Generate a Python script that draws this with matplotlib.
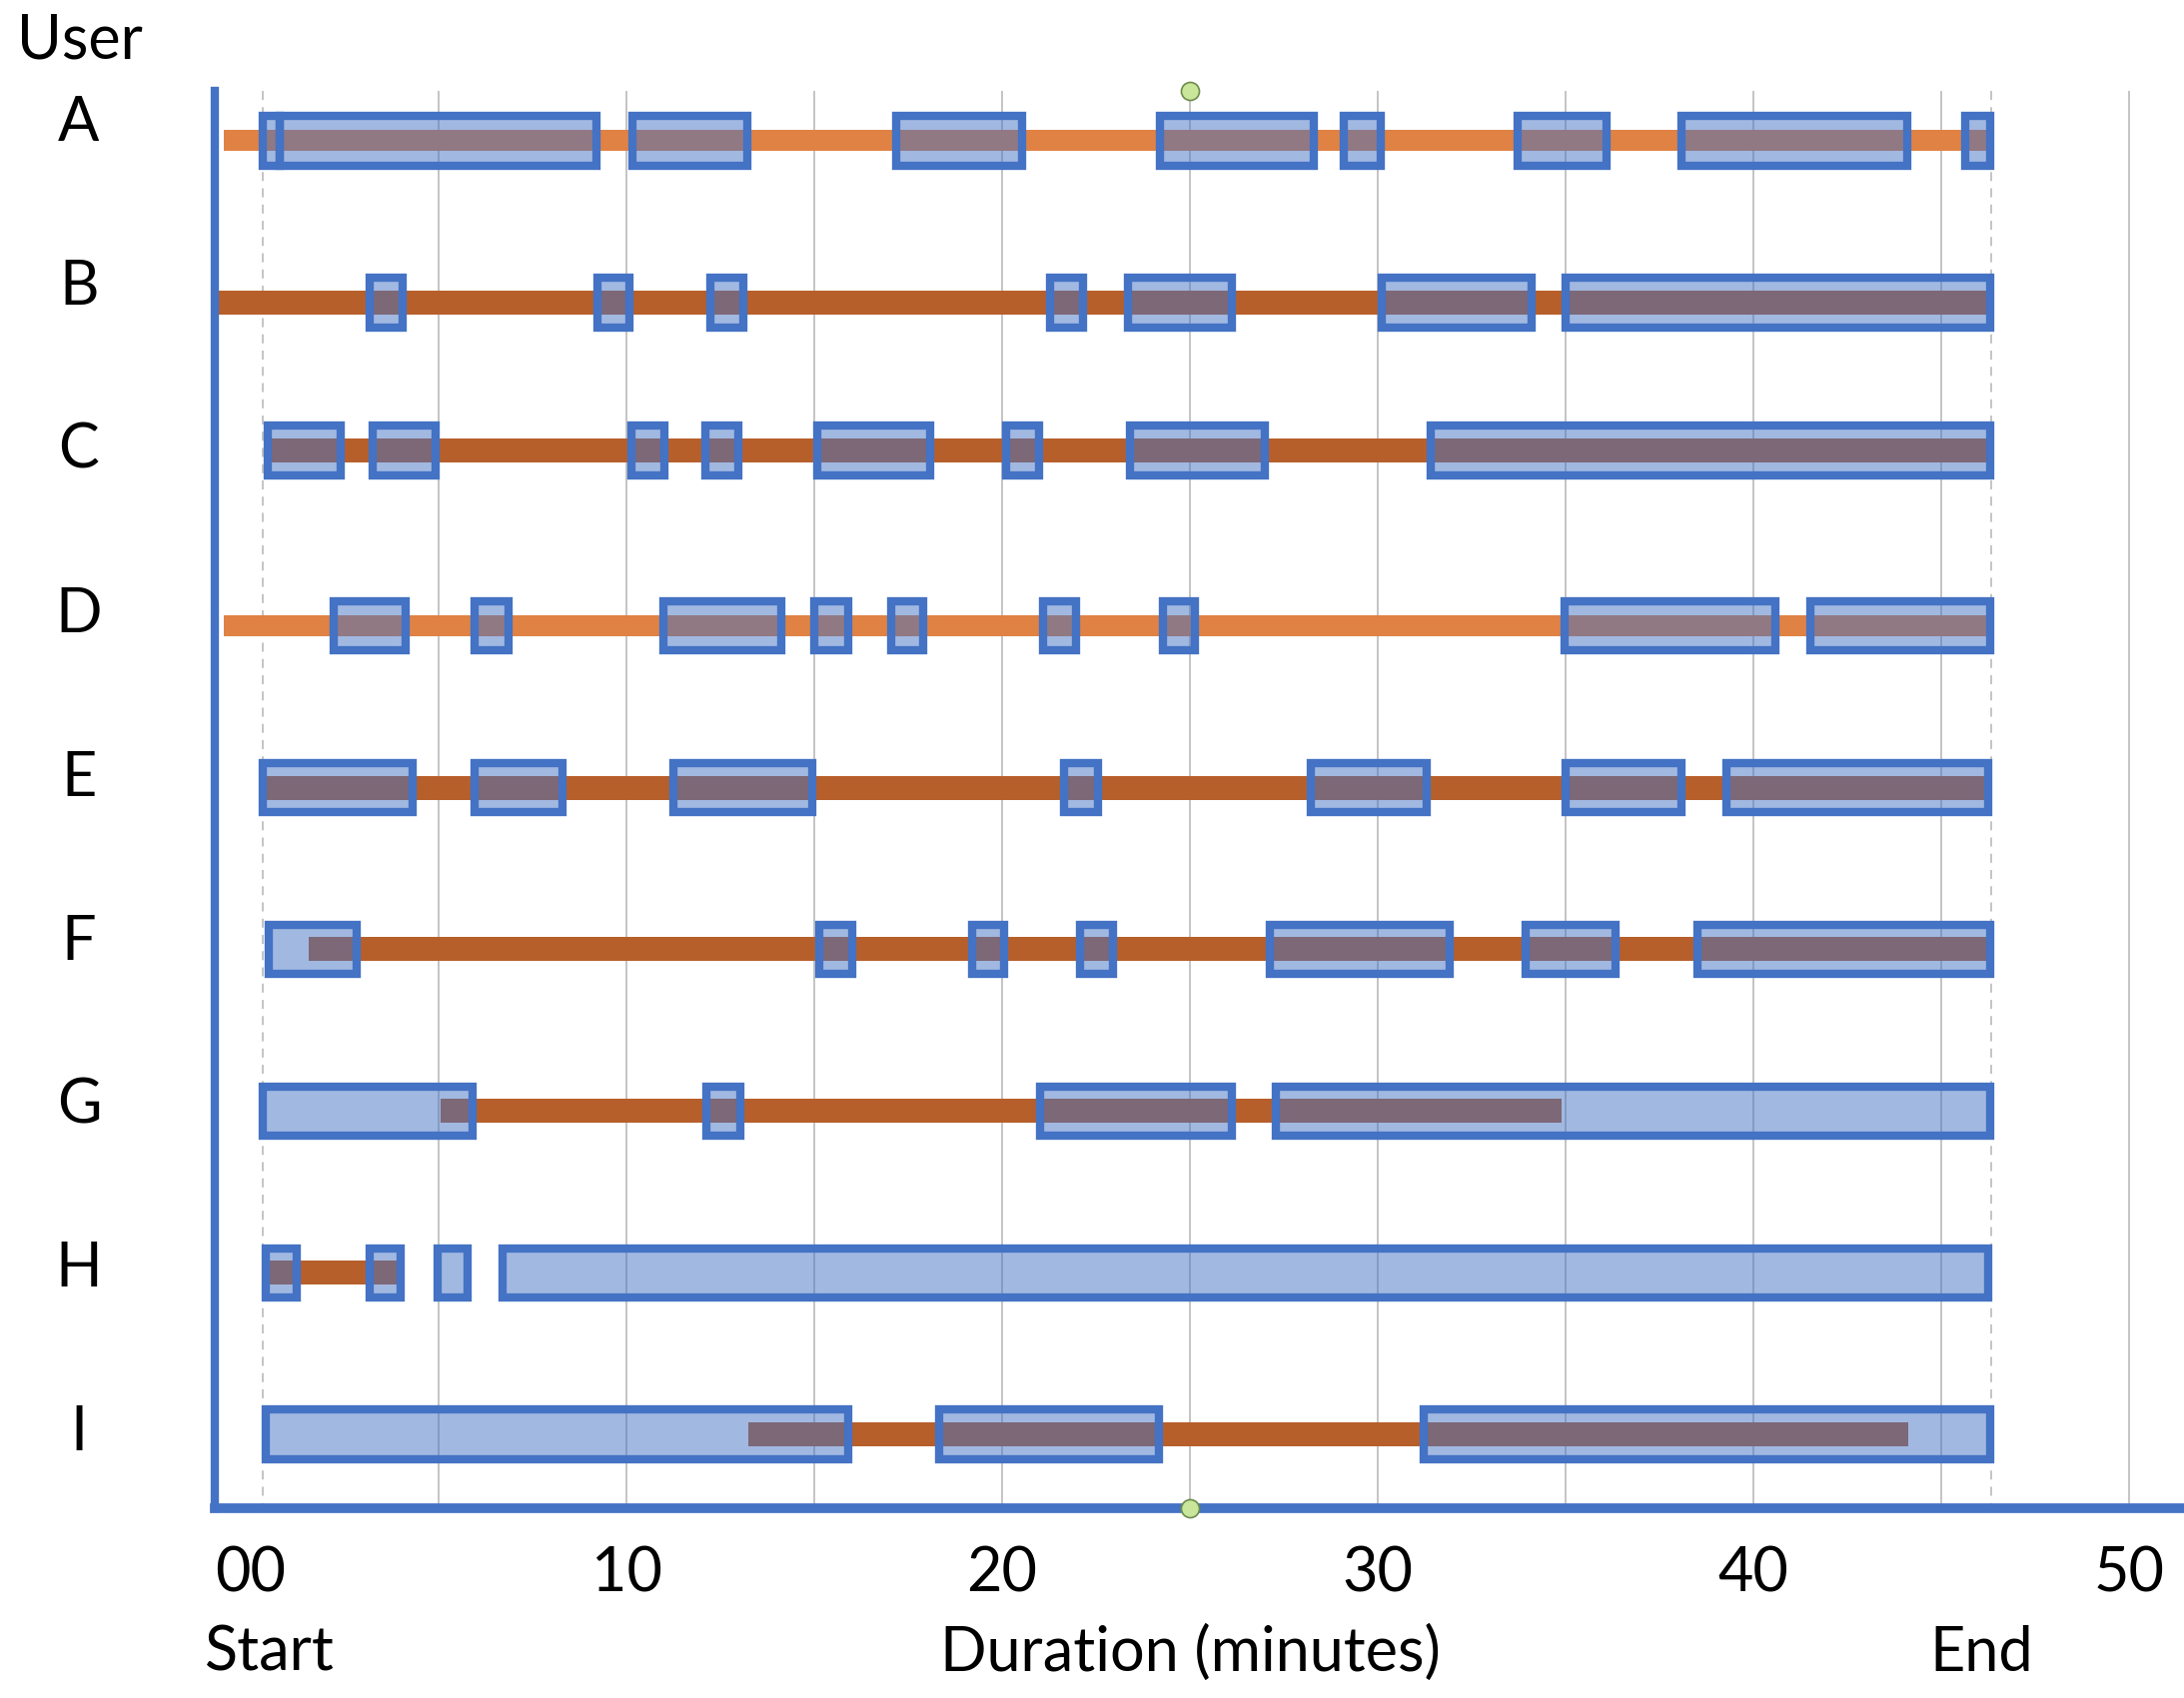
import matplotlib
matplotlib.use('Agg')
import matplotlib.pyplot as plt
from matplotlib.transforms import blended_transform_factory

# Calibri-ähnliche Schrift
plt.rcParams['font.family'] = ['Lato', 'DejaVu Sans']

# ---- data (minutes) ----
users = ['A', 'B', 'C', 'D', 'E', 'F', 'G', 'H', 'I']

# orange session line per user
line_start = [-0.72, -0.9, 0.44, -0.72, 0.32, 1.54, 5.05, 0.45, 13.24]
line_end = [46.3, 46.3, 46.3, 46.3, 46.3, 46.2, 34.89, 3.9, 44.12]

# blue activity boxes per user: (start, end)
boxes = [
    [(0.32, 0.76), (0.76, 9.19), (10.17, 13.22), (17.18, 20.52), (24.19, 28.3),
     (29.09, 30.09), (33.72, 36.1), (38.08, 44.09), (45.63, 46.31)],
    [(3.15, 4.03), (9.22, 10.09), (12.24, 13.12), (21.28, 22.16), (23.36, 26.11),
     (30.11, 34.08), (35.01, 46.31)],
    [(0.44, 2.39), (3.25, 4.93), (10.12, 11.0), (12.09, 12.97), (15.07, 18.07),
     (20.11, 20.99), (23.41, 27.0), (31.4, 46.31)],
    [(2.2, 4.13), (5.96, 6.85), (10.97, 14.12), (15.0, 15.89), (17.04, 17.9),
     (21.08, 21.96), (24.28, 25.14), (34.96, 40.58), (41.51, 46.31)],
    [(0.32, 4.3), (5.96, 8.29), (11.24, 14.94), (21.65, 22.54), (28.21, 31.31),
     (35.01, 38.07), (39.27, 46.26)],
    [(0.47, 2.81), (15.13, 16.0), (19.21, 20.06), (22.08, 22.96), (27.13, 31.91),
     (33.94, 36.32), (38.51, 46.31)],
    [(0.32, 5.9), (12.12, 13.02), (21.01, 26.11), (27.28, 46.31)],
    [(0.39, 1.22), (3.15, 3.98), (4.97, 5.78), (6.69, 46.26)],
    [(0.39, 15.9), (18.31, 24.18), (31.21, 46.31)],
]

tick_x = [0, 10, 20, 30, 40, 50]
tick_labels = ['00', '10', '20', '30', '40', '50']
grid_x = [5, 10, 15, 20, 25, 30, 35, 40, 45, 50]
start_x = 0.33
end_x = 46.34
marker_x = 25

# ---- layout / style ----
# row C sits a little higher in the drawing; labels are spaced slightly wider
row_y = [0, 1, 1.915, 3, 4, 5, 6, 7, 8]
label_y = [r * 1.0125 for r in range(len(users))]
light_rows = ['A', 'D']
orange_light = '#E08244'
orange_dark = '#B75F2B'
blue = '#4472C4'
blue_fill = (0.267, 0.447, 0.769, 0.5)
grid_col = '#BFBFBF'
fs = 44

fig = plt.figure(figsize=(21.86, 17), dpi=100)
ax = fig.add_axes([0.0984, 0.1118, 0.9016, 0.8347])
y_top, y_bot = -0.309, 8.456
ax.set_xlim(-0.957, 51.46)
ax.set_ylim(y_bot, y_top)

# gridlines
ax.vlines(grid_x, y_top, y_bot, color=grid_col, lw=1.3, zorder=0)
ax.vlines([start_x, end_x], y_top, y_bot, color=grid_col, lw=1.3,
          linestyles=(0, (5, 4)), zorder=0)

# orange lines
line_colors = [orange_light if u in light_rows else orange_dark for u in users]
line_h = [0.13 if u in light_rows else 0.148 for u in users]
ax.barh(row_y, [e - s for s, e in zip(line_start, line_end)], left=line_start,
        height=line_h, color=line_colors, zorder=2)

# blue boxes
for r, blist in enumerate(boxes):
    starts = [b[0] for b in blist]
    widths = [b[1] - b[0] for b in blist]
    ax.barh([row_y[r]] * len(blist), widths, left=starts, height=0.305,
            facecolor=blue_fill, edgecolor=blue, linewidth=6.0, zorder=3)

# selection handles on the 25 min line
ax.plot([marker_x, marker_x], [y_top, y_bot], 'o', ms=13, mfc='#C9E69A',
        mec='#6E8B4E', mew=1.2, clip_on=False, zorder=6)

# axes
for side in ['top', 'right']:
    ax.spines[side].set_visible(False)
ax.spines['left'].set_color(blue)
ax.spines['left'].set_linewidth(6)
ax.spines['bottom'].set_color(blue)
ax.spines['bottom'].set_linewidth(7)

ax.set_xticks(tick_x, tick_labels)
ax.tick_params(axis='x', length=0, pad=27, labelsize=fs)
ax.set_yticks(label_y)
ax.set_yticklabels(users, ha='center', va='baseline')
ax.tick_params(axis='y', length=0, pad=98, labelsize=fs)

fig.text(0.0078, 0.9656, 'User', fontsize=fs, ha='left', va='baseline')
trans = blended_transform_factory(ax.transData, fig.transFigure)
ax.text(0.5, 0.0159, 'Start', transform=trans, ha='center', va='baseline', fontsize=fs)
ax.text(25, 0.0159, 'Duration (minutes)', transform=trans, ha='center',
        va='baseline', fontsize=fs)
ax.text(46.06, 0.0159, 'End', transform=trans, ha='center', va='baseline', fontsize=fs)

fig.savefig('out.png', dpi=100)
